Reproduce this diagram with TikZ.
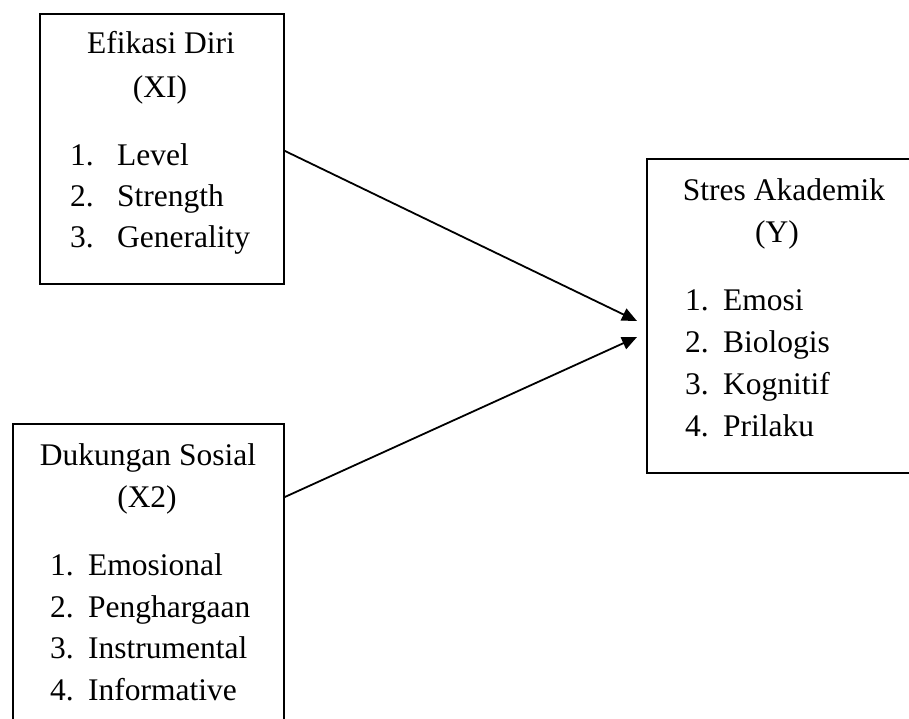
\documentclass[tikz,border=0pt]{standalone}
\usepackage{fontspec}
\setmainfont[Ligatures=NoCommon]{Liberation Serif}
\usetikzlibrary{arrows.meta}
\begin{document}
\begin{tikzpicture}[x=1pt,y=-1pt,
  boxstyle/.style={draw, line width=1.8pt, anchor=north west, inner sep=0pt, minimum width=#1},
  txt/.style={inner sep=0pt, font=\fontsize{31.5}{38}\selectfont},
  conn/.style={line width=1.8pt, -{Triangle[length=15pt,width=13pt]}}]
\useasboundingbox (0,0) rectangle (909,718);
% boxes
\node[boxstyle=244pt, minimum height=270pt] (b1) at (39,13) {};
\node[boxstyle=270pt, minimum height=314pt] (b2) at (646,158) {};
\node[boxstyle=271pt, minimum height=310pt] (b3) at (12,423) {};
% box 1 text
\node[txt, anchor=base] (t1a) at (161,53) {Efikasi Diri};
\node[txt, anchor=base] (t1b) at (160,97) {(XI)};
\node[txt, anchor=base west] (n11) at (70,165) {1.};
\node[txt, anchor=base west] (l11) at (117,165) {Level};
\node[txt, anchor=base west] (n12) at (70,206) {2.};
\node[txt, anchor=base west] (l12) at (117,206) {Strength};
\node[txt, anchor=base west] (n13) at (70,247) {3.};
\node[txt, anchor=base west] (l13) at (117,247) {Generality};
% box 2 text
\node[txt, anchor=base] (t2a) at (784,200) {Stres Akademik};
\node[txt, anchor=base] (t2b) at (777,242) {(Y)};
\node[txt, anchor=base west] (n21) at (685,310) {1.};
\node[txt, anchor=base west] (l21) at (723,310) {Emosi};
\node[txt, anchor=base west] (n22) at (685,352) {2.};
\node[txt, anchor=base west] (l22) at (723,352) {Biologis};
\node[txt, anchor=base west] (n23) at (685,394) {3.};
\node[txt, anchor=base west] (l23) at (723,394) {Kognitif};
\node[txt, anchor=base west] (n24) at (685,436) {4.};
\node[txt, anchor=base west] (l24) at (723,436) {Prilaku};
% box 3 text
\node[txt, anchor=base] (t3a) at (148,465) {Dukungan Sosial};
\node[txt, anchor=base] (t3b) at (147,507) {(X2)};
\node[txt, anchor=base west] (n31) at (50,575) {1.};
\node[txt, anchor=base west] (l31) at (88,575) {Emosional};
\node[txt, anchor=base west] (n32) at (50,617) {2.};
\node[txt, anchor=base west] (l32) at (88,617) {Penghargaan};
\node[txt, anchor=base west] (n33) at (50,658) {3.};
\node[txt, anchor=base west] (l33) at (88,658) {Instrumental};
\node[txt, anchor=base west] (n34) at (50,700) {4.};
\node[txt, anchor=base west] (l34) at (88,700) {Informative};
% connectors
\coordinate (tip1) at (637,321);
\coordinate (tip2) at (637,337);
\draw[conn] ([yshift=-2pt]b1.east) -- (tip1);
\draw[conn] ([yshift=-74pt]b3.north east) -- (tip2);
\end{tikzpicture}
\end{document}
